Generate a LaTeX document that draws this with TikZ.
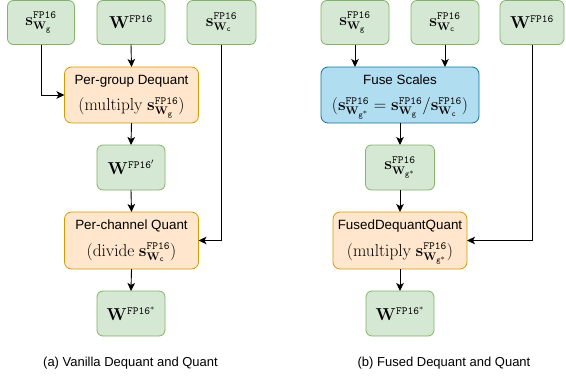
\documentclass[tikz,border=0pt]{standalone}
\usepackage{amsmath}
\usepackage[no-math]{fontspec}
\setmainfont{Liberation Sans}
\usetikzlibrary{arrows.meta}
\definecolor{gfill}{HTML}{D5E8D4}
\definecolor{gdraw}{HTML}{82B366}
\definecolor{ofill}{HTML}{FFE6CC}
\definecolor{odraw}{HTML}{D79B00}
\definecolor{bfill}{HTML}{B1DDF0}
\definecolor{bdraw}{HTML}{10739E}
\newcommand{\sW}[1]{\mathbf{s}^{\mathtt{FP16}}_{\mathbf{W}_{\mathtt{#1}}}}
\newcommand{\sWs}{\mathbf{s}^{\mathtt{FP16}}_{\mathbf{W}_{\mathtt{g}^{*}}}}
\newcommand{\mtxt}[1]{\mathrm{#1}\ }
\begin{document}
\begin{tikzpicture}[x=1pt,y=-1pt,
  every node/.style={inner sep=0pt, outer sep=0pt},
  gbox/.style={draw=gdraw, fill=gfill, line width=0.8pt, rounded corners=6pt, minimum width=67pt, minimum height=44pt, font=\fontsize{16}{18}\selectfont},
  obox/.style={draw=odraw, fill=ofill, line width=0.8pt, rounded corners=7pt, minimum width=134pt, minimum height=56pt},
  bbox/.style={draw=bdraw, fill=bfill, line width=0.8pt, rounded corners=7pt, minimum width=158pt, minimum height=56pt},
  ttl/.style={anchor=base, font=\fontsize{13.4}{16}\selectfont},
  mth/.style={anchor=base, font=\fontsize{16}{18}\selectfont},
  conn/.style={draw=black, line width=0.9pt, -{Stealth[length=8pt,width=7.5pt,inset=2pt]}},
  captxt/.style={font=\fontsize{13}{15}\selectfont}]
\useasboundingbox (0,0) rectangle (566,381);
% left panel
\node[gbox] (sg) at (41,22.5) {$\sW{g}$};
\node[gbox, minimum width=68pt] (W) at (131,22.5) {$\mathbf{W}^{\mathtt{FP16}}$};
\node[gbox, minimum width=69pt] (sc) at (221.5,22.5) {$\sW{c}$};
\node[obox] (deq) at (131.5,95) {};
\node[ttl] (deqT) at (131.5,84) {Per-group Dequant};
\node[mth] (deqM) at (131.5,110.5) {$(\mtxt{multiply}\sW{g})$};
\node[gbox, minimum width=68pt, minimum height=45pt] (Wp) at (131,167.5) {$\mathbf{W}^{\mathtt{FP16}'}$};
\node[obox, minimum height=57pt] (qnt) at (131.5,240.5) {};
\node[ttl] (qntT) at (131.5,229.5) {Per-channel Quant};
\node[mth] (qntM) at (131.5,256) {$(\mtxt{divide}\sW{c})$};
\node[gbox, minimum width=68pt, minimum height=45pt] (Ws) at (131,313.5) {$\mathbf{W}^{\mathtt{FP16}^{*}}$};
\node[captxt] (capa) at (130.5,363) {(a) Vanilla Dequant and Quant};
\draw[conn] (sg.south) |- (deq.west);
\draw[conn] (W.south) -- (deq.north);
\draw[conn] (deq.south) -- (Wp.north);
\draw[conn] (Wp.south) -- (qnt.north);
\draw[conn] (sc.south) |- (qnt.east);
\draw[conn] (qnt.south) -- (Ws.north);
% right panel
\node[gbox, minimum width=68pt] (sg2) at (355,22.5) {$\sW{g}$};
\node[gbox, minimum width=68pt] (sc2) at (445,22.5) {$\sW{c}$};
\node[gbox, minimum width=64pt] (W2) at (532,22.5) {$\mathbf{W}^{\mathtt{FP16}}$};
\node[bbox] (fuse) at (400,95) {};
\node[ttl] (fuseT) at (400,84) {Fuse Scales};
\node[mth] (fuseM) at (400,110.5) {$(\sWs=\sW{g}/\sW{c})$};
\node[gbox, minimum width=69pt, minimum height=45pt] (sgs) at (400,167.5) {$\sWs$};
\node[obox, minimum height=57pt] (fdq) at (400,240.5) {};
\node[ttl] (fdqT) at (400,229.5) {FusedDequantQuant};
\node[mth] (fdqM) at (400,256) {$(\mtxt{multiply}\sWs)$};
\node[gbox, minimum width=68pt, minimum height=45pt] (Ws2) at (400,313.5) {$\mathbf{W}^{\mathtt{FP16}^{*}}$};
\node[captxt] (capb) at (444,363) {(b) Fused Dequant and Quant};
\draw[conn] (sg2.south) -- (sg2.south |- fuse.north);
\draw[conn] (sc2.south) -- (sc2.south |- fuse.north);
\draw[conn] (fuse.south) -- (sgs.north);
\draw[conn] (sgs.south) -- (fdq.north);
\draw[conn] (W2.south) |- (fdq.east);
\draw[conn] (fdq.south) -- (Ws2.north);
\end{tikzpicture}
\end{document}
